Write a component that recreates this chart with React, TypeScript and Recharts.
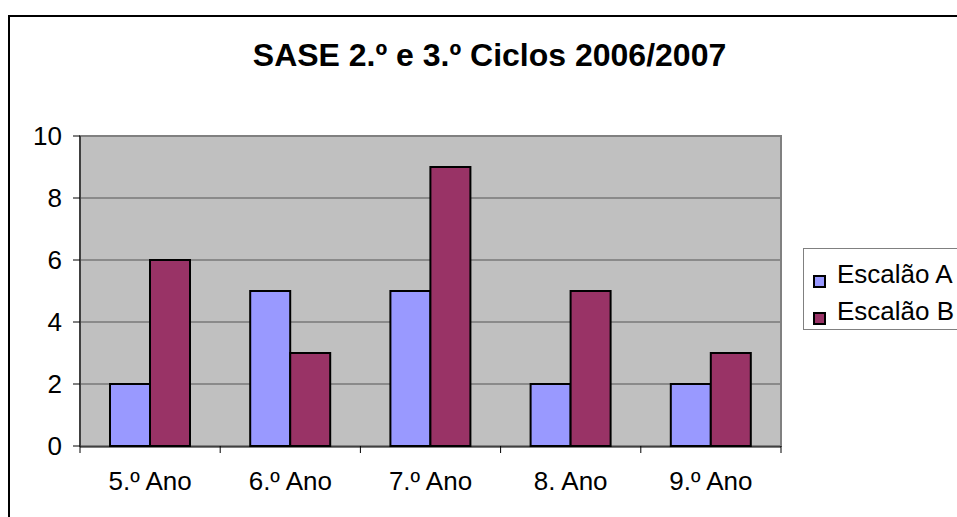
import React from "react";
import { BarChart, Bar, XAxis, YAxis, CartesianGrid, ReferenceArea } from "recharts";

const categories = ["5.º Ano", "6.º Ano", "7.º Ano", "8. Ano", "9.º Ano"];
const escalaoA = [2, 5, 5, 2, 2];
const escalaoB = [6, 3, 9, 5, 3];
const seriesNames = ["Escalão A", "Escalão B"];
const seriesColors = ["#9999FF", "#993366"];
const yTicks = [0, 2, 4, 6, 8, 10];
const edgeTicks = [0, 1, 2, 3, 4, 5];
const title = "SASE 2.º e 3.º Ciclos 2006/2007";

const data = categories.map((c, i) => ({ cat: c, pos: i, a: escalaoA[i], b: escalaoB[i] }));
const FONT = "'Liberation Sans', Arial, sans-serif";

const EmptyTick = () => <g />;

export default function App() {
  return (
    <div style={{ position: "relative", width: 957, height: 517, overflow: "hidden", fontFamily: FONT, background: "#fff" }}>
      <style>{"body{margin:0;overflow:hidden;}"}</style>
      <div
        style={{
          position: "absolute",
          left: 8,
          top: 15,
          width: 1200,
          height: 800,
          borderLeft: "2px solid #000",
          borderTop: "2px solid #000",
          boxSizing: "border-box",
        }}
      />
      <div
        style={{
          position: "absolute",
          left: 189.5,
          top: 39,
          width: 600,
          textAlign: "center",
          fontSize: 32,
          lineHeight: "32px",
          fontWeight: "bold",
          color: "#000",
          whiteSpace: "nowrap",
        }}
      >
        {title}
      </div>
      <div style={{ position: "absolute", left: 0, top: 0 }}>
        <BarChart
          width={957}
          height={517}
          data={data}
          margin={{ top: 136, right: 176, bottom: 31, left: 20 }}
          barGap={0}
        >
          <CartesianGrid xAxisId="cat" vertical={false} fill="#C0C0C0" stroke="#555555" strokeWidth={1} fillOpacity={1} />
          <ReferenceArea xAxisId="cat" y1={0} y2={10} fill="none" stroke="#808080" strokeWidth={2} ifOverflow="extendDomain" />
          <XAxis
            xAxisId={0}
            dataKey="pos"
            type="number"
            domain={[0, 5]}
            ticks={edgeTicks}
            tick={EmptyTick}
            tickSize={7}
            tickLine={{ stroke: "#000" }}
            axisLine={false}
            height={1}
            allowDataOverflow
          />
          <XAxis
            xAxisId="cat"
            dataKey="cat"
            tickLine={false}
            tickSize={7}
            tickMargin={18}
            axisLine={{ stroke: "#000", strokeWidth: 1 }}
            tick={{ fill: "#000", fontSize: 26, fontFamily: FONT }}
            height={39}
            interval={0}
          />
          <YAxis
            domain={[0, 10]}
            ticks={yTicks}
            width={60}
            tickSize={7}
            tickMargin={11}
            tickLine={{ stroke: "#000" }}
            axisLine={{ stroke: "#000", strokeWidth: 1 }}
            tick={{ fill: "#000", fontSize: 26, fontFamily: FONT }}
          />
          <Bar xAxisId="cat" dataKey="a" name={seriesNames[0]} fill={seriesColors[0]} stroke="#000" strokeWidth={2} barSize={40} isAnimationActive={false} />
          <Bar xAxisId="cat" dataKey="b" name={seriesNames[1]} fill={seriesColors[1]} stroke="#000" strokeWidth={2} barSize={40} isAnimationActive={false} />
        </BarChart>
      </div>
      <div
        style={{
          position: "absolute",
          left: 803,
          top: 248,
          width: 200,
          height: 82,
          border: "1px solid #808080",
          boxSizing: "border-box",
          background: "#fff",
        }}
      >
        {seriesNames.map((n, i) => (
          <div key={n} style={{ position: "absolute", left: 9, top: 10 + i * 37, height: 30, whiteSpace: "nowrap" }}>
            <span
              style={{
                position: "absolute",
                left: 0,
                top: 16,
                width: 13,
                height: 13,
                background: seriesColors[i],
                border: "2px solid #000",
                boxSizing: "border-box",
              }}
            />
            <span style={{ position: "absolute", left: 24, top: 0, fontSize: 26, lineHeight: "30px", color: "#000" }}>{n}</span>
          </div>
        ))}
      </div>
    </div>
  );
}
